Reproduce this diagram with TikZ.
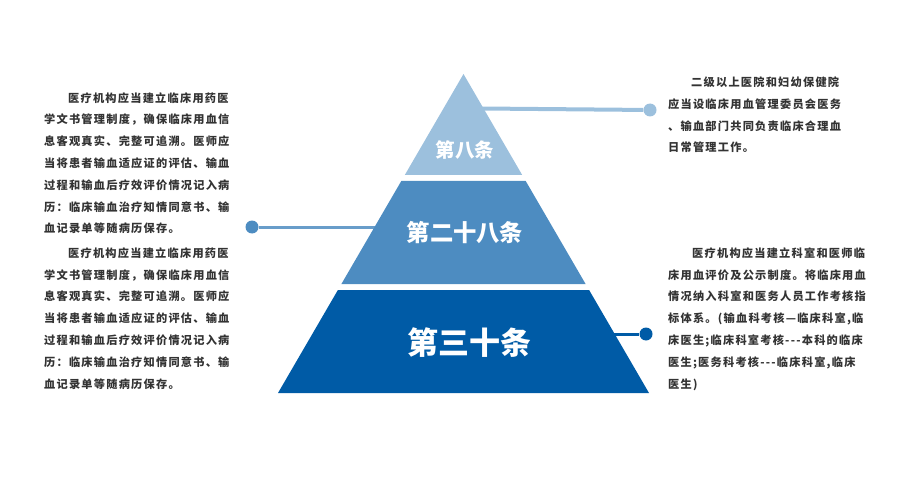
\documentclass[tikz,border=0pt]{standalone}
\usepackage{fontspec}
\usepackage{tikz}
\usepackage{xcolor}
\usetikzlibrary{positioning,calc}
\newfontfamily\cjk{Noto Sans CJK SC}[LetterSpace=11]
\newfontfamily\cjkhead{Noto Sans CJK SC}
\definecolor{tierlight}{HTML}{9CC0DD}
\definecolor{tiermid}{HTML}{4D8CC1}
\definecolor{tierdark}{HTML}{005BA6}
\definecolor{bodytext}{HTML}{333333}

\begin{document}
\begin{tikzpicture}[
  x=1pt,y=-1pt,
  every node/.style={inner sep=0pt},
  % base anchor of a multi-line node = baseline of its last line
  para/.style={anchor=base west,align=left,text=bodytext,
    font=\cjk\bfseries\fontsize{11.2}{21.8}\selectfont},
  tier/.style={text=white,font=\cjkhead\bfseries},
  lead/.style={line width=3pt},
  knob/.style={circle,minimum size=13pt},
]
\useasboundingbox (0,0) rectangle (900,500);
% ---- the pyramid, three bands with thin white gaps ----
\fill[tierlight] (463.5,74) -- (522.2,175) -- (404.8,175) -- cycle;
\fill[tiermid]   (401.3,181) -- (525.7,181) -- (585.6,284) -- (341.4,284) -- cycle;
\fill[tierdark]  (337.9,290) -- (589.1,290) -- (649,393) -- (278,393) -- cycle;
\node[tier,font=\cjkhead\bfseries\fontsize{19.5}{20}\selectfont] (art8)  at (465,150) {第八条};
\node[tier,font=\cjkhead\bfseries\fontsize{23.3}{24}\selectfont] (art28) at (465,233) {第二十八条};
\node[tier,font=\cjkhead\bfseries\fontsize{31}{32}\selectfont]   (art30) at (469,343) {第三十条};
% ---- leaders: band edge to a round knob ----
\coordinate (edge8)  at (482,108.5);
\coordinate (edge28) at (378,227);
\coordinate (edge30) at (614,334);
\node[knob,fill=tierlight] (knob8)  at (650,110) {};
\node[knob,fill=tiermid]   (knob28) at (252,227) {};
\node[knob,fill=tierdark]  (knob30) at (646,334) {};
\draw[lead,tierlight,line width=4pt] (edge8) -- (knob8);
\draw[lead,tiermid,opacity=.85] (edge28) -- (knob28);
\draw[lead,tierdark] (edge30) -- (knob30);
% ---- left text column (same paragraph twice) ----
\node[para] (leftA) at (44,233) {\hspace*{24pt}医疗机构应当建立临床用药医\\
  学文书管理制度，确保临床用血信\\
  息客观真实、完整可追溯。医师应\\
  当将患者输血适应证的评估、输血\\
  过程和输血后疗效评价情况记入病\\
  历：临床输血治疗知情同意书、输\\
  血记录单等随病历保存。};
\node[para] (leftB) at (44,388) {\hspace*{24pt}医疗机构应当建立临床用药医\\
  学文书管理制度，确保临床用血信\\
  息客观真实、完整可追溯。医师应\\
  当将患者输血适应证的评估、输血\\
  过程和输血后疗效评价情况记入病\\
  历：临床输血治疗知情同意书、输\\
  血记录单等随病历保存。};
% ---- right text column ----
\node[para] (rightA) at (668,152) {\hspace*{23pt}二级以上医院和妇幼保健院\\
  应当设临床用血管理委员会医务\\
  、输血部门共同负责临床合理血\\
  日常管理工作。};
\node[para] (rightB) at (668,388) {\hspace*{24pt}医疗机构应当建立科室和医师临\\
  床用血评价及公示制度。将临床用血\\
  情况纳入科室和医务人员工作考核指\\
  标体系。(输血科考核—临床科室,临\\
  床医生;临床科室考核-{}-{}-本科的临床\\
  医生;医务科考核-{}-{}-临床科室,临床\\
  医生)};
\end{tikzpicture}
\end{document}
